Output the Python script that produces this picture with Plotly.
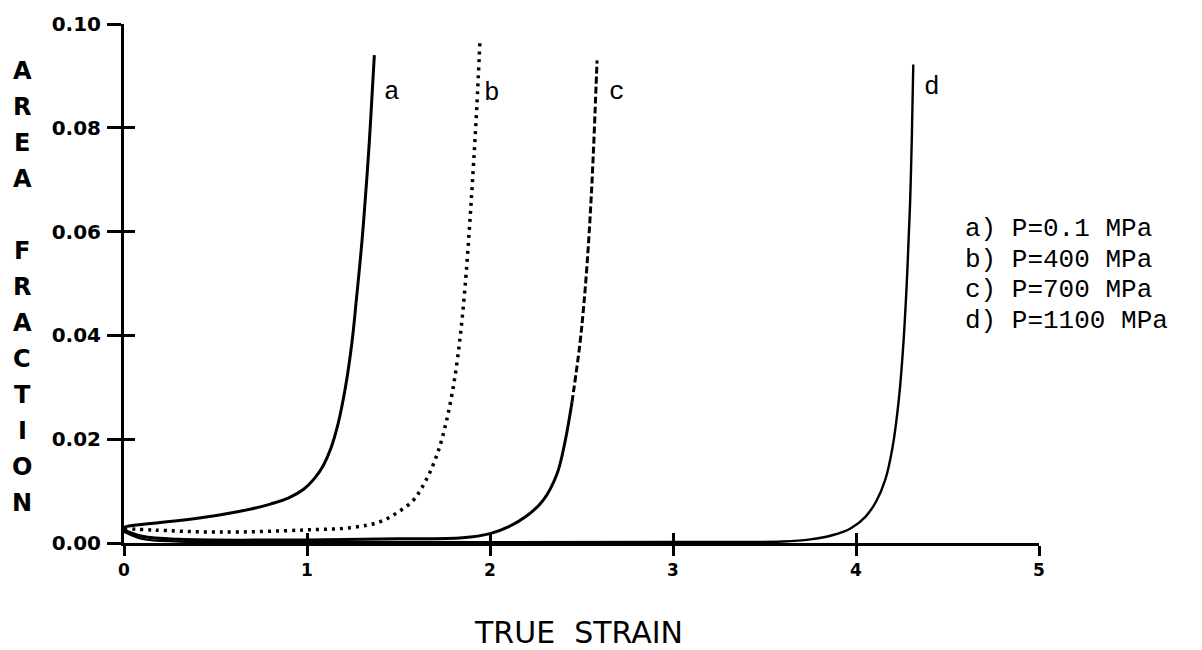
import plotly.graph_objects as go

# ---- data ----
a_x = [0.0, 0.016, 0.16, 0.43, 0.70, 0.80, 0.90, 0.98, 1.04, 1.09, 1.13, 1.17, 1.21, 1.245, 1.27, 1.30, 1.32, 1.34, 1.355, 1.368]
a_y = [0.0030, 0.0032, 0.0038, 0.0049, 0.0066, 0.0075, 0.0087, 0.0103, 0.0124, 0.0150, 0.0182, 0.0230, 0.0300, 0.0385, 0.0470, 0.0580, 0.0670, 0.0770, 0.0860, 0.0940]

b_x = [0.0, 0.16, 0.52, 0.98, 1.25, 1.40, 1.50, 1.58, 1.62, 1.67, 1.72, 1.76, 1.795, 1.825, 1.85, 1.872, 1.892, 1.91, 1.928, 1.945]
b_y = [0.0028, 0.0025, 0.0021, 0.0025, 0.0030, 0.0041, 0.0060, 0.0082, 0.0102, 0.0135, 0.0180, 0.0232, 0.0292, 0.0362, 0.0440, 0.0530, 0.0630, 0.0730, 0.0840, 0.0968]

c_x = [0.0, 0.1, 0.3, 1.0, 1.5, 1.85, 2.0, 2.10, 2.20, 2.29, 2.366, 2.41, 2.448, 2.49, 2.513, 2.533, 2.549, 2.562, 2.574, 2.585]
c_y = [0.0025, 0.0013, 0.0007, 0.0006, 0.0008, 0.0010, 0.0018, 0.0031, 0.0052, 0.0082, 0.0133, 0.0195, 0.0271, 0.0380, 0.0460, 0.0550, 0.0640, 0.0730, 0.0830, 0.0930]

d_x = [0.0, 0.1, 0.3, 1.0, 3.0, 3.6, 3.75, 3.87, 3.97, 4.05, 4.11, 4.16, 4.20, 4.235, 4.26, 4.28, 4.295, 4.305, 4.313]
d_y = [0.0022, 0.0008, 0.0003, 0.0002, 0.0002, 0.0003, 0.0007, 0.0015, 0.0028, 0.0050, 0.0080, 0.0122, 0.0185, 0.0280, 0.0390, 0.0520, 0.0650, 0.0780, 0.0922]

curve_labels = ["a", "b", "c", "d"]
legend_lines = ["a) P=0.1 MPa", "b) P=400 MPa", "c) P=700 MPa", "d) P=1100 MPa"]
x_ticks = [0, 1, 2, 3, 4, 5]
y_ticks = [0.00, 0.02, 0.04, 0.06, 0.08, 0.10]
y_title = "AREA FRACTION"
x_title = "TRUE STRAIN"

# split of curve c: solid lower part, dashed upper part
c_split = 12

fig = go.Figure()
fig.add_trace(go.Scatter(x=a_x, y=a_y, mode="lines", line=dict(color="black", width=3, shape="spline", smoothing=1.2)))
fig.add_trace(go.Scatter(x=b_x, y=b_y, mode="lines", line=dict(color="black", width=3.5, dash="3px,5px", shape="spline")))
fig.add_trace(go.Scatter(x=c_x[:c_split + 1], y=c_y[:c_split + 1], mode="lines", line=dict(color="black", width=3, shape="spline")))
fig.add_trace(go.Scatter(x=c_x[c_split:], y=c_y[c_split:], mode="lines", line=dict(color="black", width=3, dash="7px,3px", shape="spline")))
fig.add_trace(go.Scatter(x=d_x, y=d_y, mode="lines", line=dict(color="black", width=2.4, shape="spline")))
# empty trace to carry the overlay axes (inner tick halves)
fig.add_trace(go.Scatter(x=[], y=[], xaxis="x2", yaxis="y2", mode="lines"))

tickfont = dict(family="DejaVu Sans", size=20, color="black", weight="bold")

fig.update_layout(
    width=1202, height=650,
    margin=dict(l=124, r=163, t=16, b=107),
    paper_bgcolor="white", plot_bgcolor="white",
    showlegend=False,
    xaxis=dict(range=[0, 5], tickvals=x_ticks, ticktext=[str(v) for v in x_ticks],
               showgrid=False, zeroline=False, showline=True, linewidth=3, linecolor="black",
               ticks="outside", ticklen=10, tickwidth=3, tickcolor="black",
               tickfont=dict(family="DejaVu Sans", size=17, color="black", weight="bold")),
    yaxis=dict(range=[0, 0.1], tickvals=y_ticks, ticktext=["%.2f" % v for v in y_ticks],
               showgrid=False, zeroline=False, showline=True, linewidth=3, linecolor="black",
               ticks="outside", ticklen=14, tickwidth=3, tickcolor="black",
               ticklabelstandoff=2, tickfont=tickfont),
    xaxis2=dict(range=[0, 5], overlaying="x", anchor="y", side="bottom",
                tickvals=x_ticks[1:], showticklabels=False, ticks="inside", ticklen=10,
                tickwidth=3, tickcolor="black", showgrid=False, zeroline=False, showline=False),
    yaxis2=dict(range=[0, 0.1], overlaying="y", anchor="x", side="left",
                tickvals=y_ticks, showticklabels=False, ticks="inside", ticklen=11,
                tickwidth=3, tickcolor="black", showgrid=False, zeroline=False, showline=False),
)

# curve labels near tops of curves
label_pos = [(1.464, 0.0869), (2.011, 0.0867), (2.694, 0.0869), (4.415, 0.0879)]
for lab, (lx, ly) in zip(curve_labels, label_pos):
    fig.add_annotation(x=lx, y=ly, xref="x", yref="y", text=lab, showarrow=False,
                       font=dict(family="Liberation Mono", size=26, color="black"))

# legend text block
plot_h = 527
for i, line in enumerate(legend_lines):
    py = 224 + i * 31.3
    fig.add_annotation(x=(963 - 124) / 915, y=(543 - py) / plot_h, xref="paper", yref="paper",
                       xanchor="left", yanchor="middle", text=line.replace(" ", "&nbsp;"),
                       showarrow=False,
                       font=dict(family="Liberation Mono", size=26, color="black"))

# vertical stacked y-axis title
for i, ch in enumerate(y_title):
    if ch == " ":
        continue
    py = 64 + i * 36.5
    fig.add_annotation(x=(22 - 124) / 915, y=(543 - py) / plot_h, xref="paper", yref="paper",
                       xanchor="center", yanchor="middle", text=ch, showarrow=False,
                       font=dict(family="DejaVu Sans", size=24, color="black", weight="bold"))

# x-axis title
fig.add_annotation(x=(578 - 124) / 915, y=(543 - 634) / plot_h, xref="paper", yref="paper",
                   xanchor="center", yanchor="middle", text=x_title.replace(" ", "&nbsp;&nbsp;"),
                   showarrow=False,
                   font=dict(family="DejaVu Sans", size=30, color="black"))

fig.write_html("out.html")
